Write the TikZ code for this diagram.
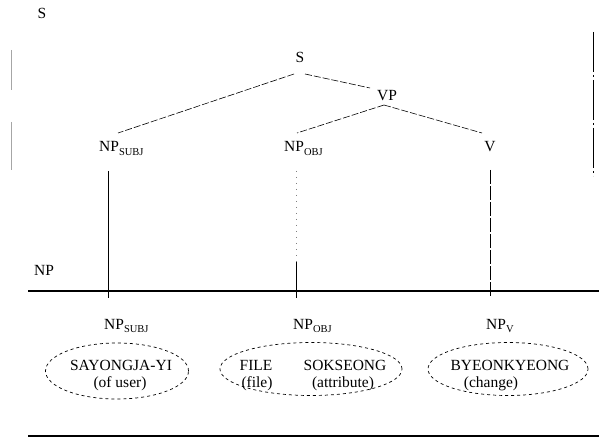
\documentclass[tikz,border=0pt]{standalone}
\usepackage{fontspec}
\setmainfont{Liberation Serif}
\usetikzlibrary{shapes.geometric}
\newcommand{\sbs}[1]{\raisebox{-0.45ex}{\fontsize{10.5}{10.5}\selectfont #1}}
\begin{document}
\begin{tikzpicture}[x=1pt,y=-1pt,
  lbl/.style={inner sep=1pt,font=\fontsize{15.5}{17}\selectfont},
  treeedge/.style={dash pattern=on 7pt off 2pt,line width=0.6pt},
  oval/.style={ellipse,draw,dashed,line width=0.7pt,inner sep=0pt},
  word/.style={inner sep=0pt,font=\fontsize{15.5}{17}\selectfont,align=center},
  vline/.style={line width=0.7pt},
  hline/.style={line width=1.1pt}]
\useasboundingbox (0,0) rectangle (599,438);
% top-left label and side lines
\node[lbl] (s0) at (42,13) {S};
\coordinate (la1) at (11,50); \coordinate (la2) at (11,90);
\coordinate (lb1) at (11,122); \coordinate (lb2) at (11,170);
\draw[gray!70,line width=1pt] (la1) -- (la2);
\draw[gray!70,line width=1pt] (lb1) -- (lb2);
\coordinate (ra) at (593,32); \coordinate (rb) at (593,176);
\draw[line width=0.7pt,dash pattern=on 40pt off 3pt on 2pt off 3pt] (ra) -- (rb);
% tree
\node[lbl] (s) at (300,57) {S};
\node[lbl] (vp) at (387,96) {VP};
\node[lbl,anchor=base west] (nps) at (98,152) {NP\sbs{SUBJ}};
\node[lbl,anchor=base west] (npo) at (283,152) {NP\sbs{OBJ}};
\node[lbl] (v) at (490,147) {V};
\coordinate (s1) at (294,74); \coordinate (s2) at (305,74);
\coordinate (nt1) at (118,133);
\coordinate (vp1) at (370,88);
\coordinate (vp2) at (384,105);
\coordinate (nt2) at (297,133);
\coordinate (nt3) at (482,133);
\draw[treeedge] (s1) -- (nt1);
\draw[treeedge] (s2) -- (vp1);
\draw[treeedge] (vp2) -- (nt2);
\draw[treeedge] (vp2) -- (nt3);
% verticals
\coordinate (a1) at (108,171); \coordinate (a2) at (108,298);
\coordinate (b1) at (296,171); \coordinate (b2) at (296,298);
\coordinate (c1) at (490,170); \coordinate (c2) at (490,298);
\draw[vline] (a1) -- (a2);
\draw[vline,gray,dash pattern=on 1pt off 5pt] (b1) -- (296,262);
\draw[vline] (296,262) -- (b2);
\draw[vline,dash pattern=on 14pt off 2pt] (c1) -- (c2);
% NP axis
\node[lbl] (np) at (44,270) {NP};
\coordinate (hl) at (28,291); \coordinate (hr) at (599,291);
\draw[hline] (hl) -- (hr);
% lower labels
\node[lbl,anchor=base west] (bs) at (103,329) {NP\sbs{SUBJ}};
\node[lbl,anchor=base west] (bo) at (292,329) {NP\sbs{OBJ}};
\node[lbl,anchor=base west] (bv) at (485,329) {NP\sbs{V}};
% ellipses
\node[oval,minimum width=143pt,minimum height=56pt] (e1) at (117,371) {};
\node[oval,minimum width=182pt,minimum height=53pt] (e2) at (311,369) {};
\node[oval,minimum width=160pt,minimum height=53pt] (e3) at (508,369) {};
\node[word] (t1) at (121,365) {SAYONGJA-YI};
\node[word] (t1b) at (120,384) {(of user)};
\node[word] (t2) at (256,365) {FILE};
\node[word] (t2b) at (257,384) {(file)};
\node[word] (t3) at (345,365) {SOKSEONG};
\node[word] (t3b) at (343,384) {(attribute)};
\node[word] (t4) at (510,365) {BYEONKYEONG};
\node[word] (t4b) at (491,384) {(change)};
% bottom rule
\coordinate (bl) at (28,436); \coordinate (br) at (599,436);
\draw[line width=1.6pt] (bl) -- (br);
\end{tikzpicture}
\end{document}
